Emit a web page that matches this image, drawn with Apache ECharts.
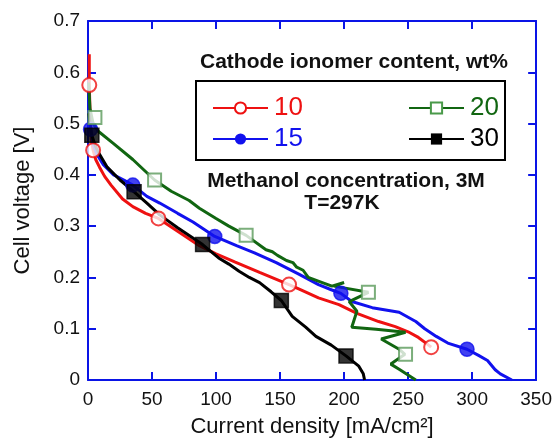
<!DOCTYPE html>
<html>
<head>
<meta charset="utf-8">
<script src="https://cdn.jsdelivr.net/npm/echarts@6/dist/echarts.min.js"></script>
<style>
  html, body { margin: 0; padding: 0; background: #fff; }
  #chart { width: 555px; height: 443px; }
</style>
</head>
<body>
<div id="chart"></div>
<script>
var chartDom = document.getElementById('chart');
var myChart = echarts.init(chartDom);
var option;

// curves, [current density mA/cm2, cell voltage V]
const curve10 = [[1,0.635],[1,0.6],[1,0.575],[1.5,0.53],[2.5,0.47],[4,0.448],[6,0.43],[9,0.415],[13,0.397],[18,0.38],[27,0.353],[35,0.338],[45,0.325],[55,0.315],[70,0.29],[87,0.262],[100,0.246],[115,0.23],[134,0.21],[157,0.186],[165,0.177],[180,0.16],[196,0.147],[210,0.13],[227,0.114],[240,0.104],[250,0.094],[258,0.083],[265,0.07],[268,0.064]];
const curve15 = [[0.5,0.56],[1,0.52],[2,0.489],[4,0.46],[7,0.44],[12,0.42],[20,0.4],[28,0.39],[35,0.38],[46,0.358],[56,0.345],[70,0.325],[82,0.308],[99,0.28],[116,0.262],[130,0.248],[147,0.229],[165,0.206],[180,0.186],[190,0.176],[197.5,0.169],[206,0.153],[222,0.141],[243,0.132],[256,0.114],[263,0.1],[272,0.085],[281,0.072],[296,0.06],[305,0.048],[312,0.038],[318,0.02],[322,0.012],[331,0]];
const curve20 = [[0.5,0.58],[1.5,0.53],[4,0.5],[8,0.485],[19.5,0.462],[35,0.43],[52,0.39],[65,0.368],[79,0.35],[87,0.335],[100,0.315],[110,0.3],[123.5,0.282],[139,0.254],[144,0.25],[148,0.243],[155,0.233],[160,0.229],[163,0.22],[168,0.214],[172,0.2],[183,0.19],[190.5,0.183],[200,0.19],[192,0.183],[219,0.171],[204,0.153],[210,0.134],[206,0.103],[225,0.099],[248,0.093],[229,0.08],[243,0.06],[247.5,0.05],[236.5,0.031],[243,0.021],[256,0]];
const curve30 = [[0.5,0.52],[3,0.477],[6,0.455],[9,0.44],[15,0.415],[25,0.39],[36,0.367],[46,0.345],[56,0.322],[70,0.297],[89.5,0.264],[102,0.238],[110,0.226],[118,0.212],[126,0.2],[134,0.19],[143,0.172],[151,0.155],[159.5,0.124],[170,0.103],[178,0.085],[190,0.068],[201.5,0.047],[211.5,0.027],[215,0.012],[216,0]];

// marker points on each curve
const marks10 = [[1,0.575],[4,0.448],[55,0.315],[157,0.186],[268,0.064]];
const marks15 = [[2,0.489],[35,0.38],[99,0.28],[197.5,0.169],[296,0.06]];
const marks20 = [[5.4,0.512],[52,0.39],[123.5,0.282],[219,0.171],[248,0.05]];
const marks30 = [[3,0.477],[36,0.367],[89.5,0.264],[151,0.155],[201.5,0.047]];

const names = ['10', '15', '20', '30'];
const colors = ['#ee1111', '#1111ee', '#116611', '#000000'];
const symbols = ['emptyCircle', 'circle', 'emptyRect', 'rect'];
const curves = [curve10, curve15, curve20, curve30];
const marks = [marks10, marks15, marks20, marks30];

const FONT = '"Liberation Sans", Arial, Helvetica, sans-serif';
const AXIS = '#0a14e6';

var series = [];
names.forEach(function (n, i) {
  series.push({
    name: n,
    type: 'line',
    data: curves[i],
    showSymbol: false,
    symbol: symbols[i],
    symbolSize: 11,
    color: colors[i],
    itemStyle: { color: i === 2 ? '#4a9a4a' : colors[i], borderWidth: 1.5 },
    lineStyle: { width: 3, color: colors[i] },
    z: 2
  });
  series.push({
    name: n + ' markers',
    type: 'scatter',
    data: marks[i],
    symbol: symbols[i],
    symbolSize: i === 2 ? 13 : 14,
    itemStyle: {
      color: i === 2 ? '#5a9a5a' : colors[i],
      borderWidth: 1.5,
      borderColor: i === 2 ? '#5a9a5a' : colors[i]
    },
    z: 3
  });
});

function legendFor(list, left) {
  return {
    data: list.map(function (n) {
      return { name: n, textStyle: { color: colors[names.indexOf(n)] } };
    }),
    orient: 'vertical',
    left: left,
    top: 90,
    itemWidth: 55,
    itemHeight: 14,
    itemGap: 5,
    selectedMode: false,
    textStyle: { fontSize: 26, fontFamily: FONT, lineHeight: 26, padding: [0, 0, 0, 1] }
  };
}

function frameAxis(extra) {
  return Object.assign({
    type: 'value',
    axisLine: { onZero: false, lineStyle: { color: AXIS, width: 2 } },
    axisTick: { inside: true, length: 8, lineStyle: { color: AXIS, width: 2 } },
    splitLine: { show: false }
  }, extra);
}

option = {
  animation: false,
  backgroundColor: '#fff',
  grid: { left: 88, right: 16, top: 21, bottom: 62 },
  legend: [legendFor(['10', '15'], 207), legendFor(['20', '30'], 403)],
  xAxis: [
    frameAxis({
      min: 0, max: 350, interval: 50,
      position: 'bottom',
      name: 'Current density [mA/cm²]',
      nameLocation: 'middle',
      nameGap: 36,
      nameTextStyle: { fontSize: 22, fontFamily: FONT, color: '#111' },
      axisLabel: { fontSize: 19, fontFamily: FONT, color: '#111', margin: 10 }
    }),
    frameAxis({
      min: 0, max: 350, interval: 50,
      position: 'top',
      axisLabel: { show: false }
    })
  ],
  yAxis: [
    frameAxis({
      min: 0, max: 0.7, interval: 0.1,
      position: 'left',
      name: 'Cell voltage [V]',
      nameLocation: 'middle',
      nameGap: 54,
      nameTextStyle: { fontSize: 22, fontFamily: FONT, color: '#111' },
      axisLabel: { fontSize: 19, fontFamily: FONT, color: '#111', margin: 8 }
    }),
    frameAxis({
      min: 0, max: 0.7, interval: 0.1,
      position: 'right',
      axisLabel: { show: false }
    })
  ],
  graphic: [
    {
      type: 'rect', left: 195, top: 80, z: 1,
      shape: { width: 309, height: 79 },
      style: { fill: '#fff', stroke: '#000', lineWidth: 2 }
    },
    {
      type: 'text', z: 5,
      x: 354, y: 52,
      style: { text: 'Cathode ionomer content, wt%', font: 'bold 21px ' + FONT, fill: '#111', textAlign: 'center' }
    },
    {
      type: 'text', z: 5,
      x: 346, y: 171,
      style: { text: 'Methanol concentration, 3M', font: 'bold 21px ' + FONT, fill: '#111', textAlign: 'center' }
    },
    {
      type: 'text', z: 5,
      x: 342, y: 193,
      style: { text: 'T=297K', font: 'bold 21px ' + FONT, fill: '#111', textAlign: 'center' }
    }
  ],
  series: series
};

option && myChart.setOption(option);
</script>
</body>
</html>
